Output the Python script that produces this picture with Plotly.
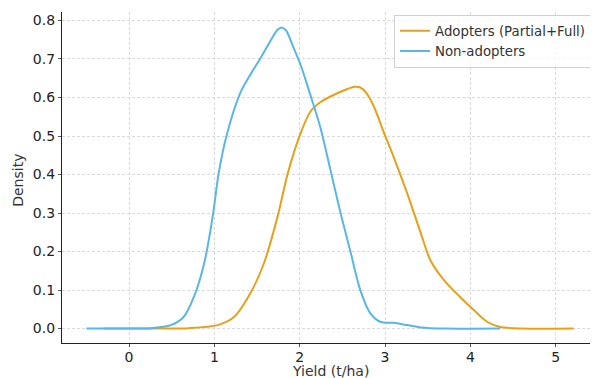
import plotly.graph_objects as go

# Non-adopters density curve
non_x = [-0.50, 0.00, 0.25, 0.49, 0.64, 0.76, 0.88, 0.98, 1.05, 1.15, 1.31, 1.42, 1.54, 1.66, 1.74, 1.79,
         1.84, 1.93, 2.01, 2.12, 2.24, 2.36, 2.48, 2.60, 2.71, 2.83, 2.95, 3.10, 3.26, 3.42, 3.70, 4.35]
non_y = [0.000, 0.000, 0.001, 0.009, 0.030, 0.082, 0.169, 0.290, 0.403, 0.507, 0.615, 0.659, 0.702, 0.748, 0.776, 0.782,
         0.774, 0.728, 0.685, 0.610, 0.524, 0.412, 0.299, 0.195, 0.100, 0.039, 0.017, 0.015, 0.009, 0.003, 0.000, 0.000]

# Adopters (Partial+Full) density curve
adp_x = [-0.30, 0.30, 0.70, 1.04, 1.23, 1.42, 1.58, 1.74, 1.86, 2.01, 2.13, 2.25, 2.44, 2.56, 2.64, 2.71,
         2.78, 2.87, 2.99, 3.10, 3.26, 3.42, 3.53, 3.69, 3.88, 4.04, 4.20, 4.35, 4.60, 5.21]
adp_y = [0.000, 0.000, 0.001, 0.009, 0.030, 0.091, 0.169, 0.290, 0.403, 0.507, 0.565, 0.589, 0.611, 0.622, 0.628, 0.626,
         0.612, 0.576, 0.507, 0.446, 0.351, 0.247, 0.178, 0.126, 0.082, 0.048, 0.017, 0.004, 0.000, 0.000]

x_ticks = [0, 1, 2, 3, 4, 5]
y_ticks = [0.0, 0.1, 0.2, 0.3, 0.4, 0.5, 0.6, 0.7, 0.8]

fig = go.Figure()
fig.add_trace(go.Scatter(x=adp_x, y=adp_y, mode="lines", name="Adopters (Partial+Full)",
                         line=dict(color="#E6A11C", width=2, shape="spline", smoothing=0.8)))
fig.add_trace(go.Scatter(x=non_x, y=non_y, mode="lines", name="Non-adopters",
                         line=dict(color="#5AB6E6", width=2, shape="spline", smoothing=0.8)))

font = "DejaVu Sans, sans-serif"
# page body has an 8px default margin, so the figure is 8px smaller than the window
fig.update_layout(
    width=590, height=370,
    margin=dict(l=54, r=0, t=4, b=35),
    paper_bgcolor="white", plot_bgcolor="white",
    font=dict(family=font, size=14, color="#222"),
    showlegend=True,
    legend=dict(x=0.987, y=0.992, xanchor="right", yanchor="top",
                bgcolor="rgba(255,255,255,0.8)", bordercolor="#d0d0d0", borderwidth=1,
                font=dict(family=font, size=13.3, color="#333"),
                itemwidth=30, tracegroupgap=0),
    annotations=[
        dict(text="Yield (t/ha)", xref="paper", yref="paper", x=0.5, y=0, yshift=-28,
             xanchor="center", yanchor="middle", showarrow=False,
             font=dict(family=font, size=14, color="#333")),
        dict(text="Density", xref="paper", yref="paper", x=0, y=0.49, xshift=-44,
             xanchor="center", yanchor="middle", textangle=-90, showarrow=False,
             font=dict(family=font, size=14, color="#333")),
    ],
)
fig.update_xaxes(range=[-0.7855, 5.4955], tickvals=x_ticks, ticktext=[str(v) for v in x_ticks],
                 automargin=False, tickfont=dict(size=14), ticklabelstandoff=-2,
                 showgrid=True, gridcolor="#dadada", griddash="3px,2px", gridwidth=0.8,
                 zeroline=False, showline=True, linecolor="#222", linewidth=1.3,
                 ticks="outside", ticklen=3, tickcolor="#555")
fig.update_yaxes(range=[-0.0375, 0.822], tickvals=y_ticks, ticktext=[f"{v:.1f}" for v in y_ticks],
                 automargin=False, tickfont=dict(size=14),
                 showgrid=True, gridcolor="#dadada", griddash="3px,2px", gridwidth=0.8,
                 zeroline=False, showline=True, linecolor="#222", linewidth=1.3,
                 ticks="outside", ticklen=3, tickcolor="#555")

fig.write_html("out.html")
